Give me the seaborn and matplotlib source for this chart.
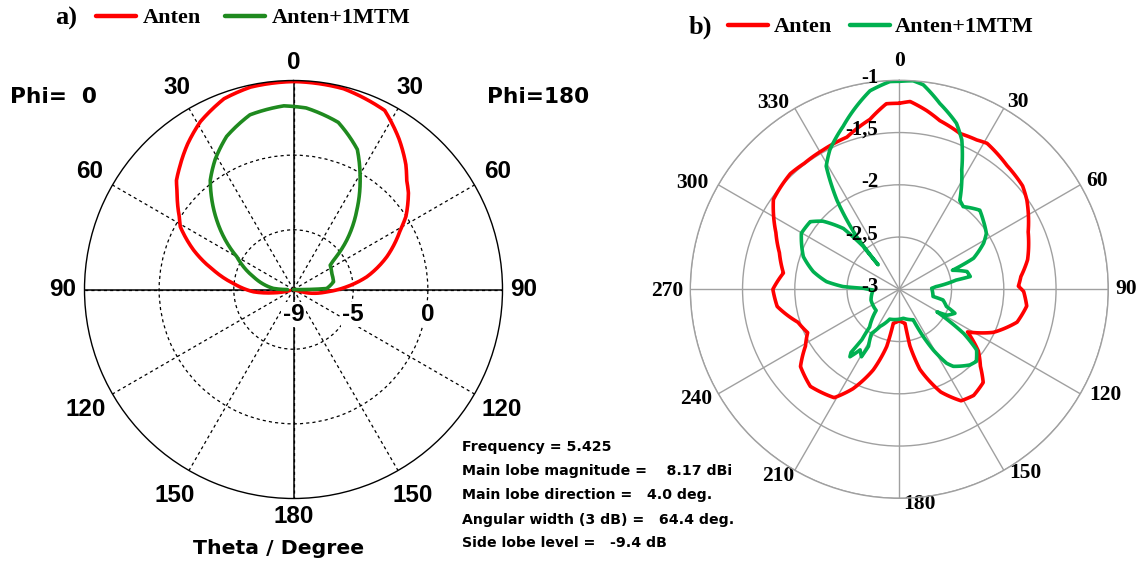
import numpy as np
import matplotlib
matplotlib.use("Agg")
import matplotlib.pyplot as plt
from matplotlib.lines import Line2D
from matplotlib.transforms import ScaledTranslation
import seaborn as sns

sns.set_theme(style="white")
plt.rcParams['font.family'] = ['Liberation Sans', 'DejaVu Sans']
plt.rcParams['text.color'] = 'black'

# ---------------- (a) elevation cut, gain in dB vs theta ----------------
# Phi = 0 half (drawn on the left)
a_red_phi0_theta = [0, 12, 20, 29, 36, 43, 47, 50, 57.7, 61, 68.5, 76.4, 84.3, 93.3, 99.4, 106]
a_red_phi0_gain = [4.93, 4.86, 4.60, 3.86, 3.06, 2.19, 1.72, 1.18, 0.04, -0.33, -1.81, -3.49,
                   -4.96, -6.32, -7.64, -8.73]
a_grn_phi0_theta = [0, 3, 14, 23.6, 31, 37.3, 47.9, 60, 72.4, 87, 91]
a_grn_phi0_gain = [3.26, 3.32, 3.06, 2.19, 1.18, 0.20, -2.07, -4.62, -6.19, -7.66, -8.60]
# Phi = 180 half (drawn on the right)
a_red_phi180_theta = [0, 14, 27, 35, 42, 46, 50, 57, 61, 70.7, 80.2, 87, 94, 104, 108]
a_red_phi180_gain = [4.93, 4.86, 4.46, 3.32, 2.25, 1.54, 1.05, -0.02, -0.83, -2.38, -4.02,
                     -5.42, -6.76, -8.08, -9.0]
a_grn_phi180_theta = [0, 4, 15, 24.5, 31.4, 38.6, 47.2, 53.8, 56.5, 67.3, 79.1, 88.3, 90, 92]
a_grn_phi180_gain = [3.26, 3.19, 2.59, 1.31, -0.43, -2.20, -4.14, -5.68, -6.05, -6.22, -6.27,
                     -6.77, -8.11, -9.0]

a_tick_labels = ['0', '30', '60', '90', '120', '150', '180', '150', '120', '90', '60', '30']
a_r_ticks = [-9, -5, 0]
a_r_lim = (-9, 5)

a_info = ["Frequency = 5.425",
          "Main lobe magnitude =    8.17 dBi",
          "Main lobe direction =   4.0 deg.",
          "Angular width (3 dB) =   64.4 deg.",
          "Side lobe level =   -9.4 dB"]

# ---------------- (b) full azimuth cut, gain in dB ----------------
b_red_angle = [0, 3.3, 8.7, 13.5, 21.3, 27.4, 31, 41, 50, 55, 66, 77, 84, 88.5, 91, 97.5, 105.6,
               114.6, 122, 128, 133.5, 138, 145, 151, 158, 165.6, 169.4, 170.5, 180, 190, 192.4,
               197.9, 205, 211, 222.5, 232, 238.8, 244.7, 252, 262, 270, 278, 287, 294.7, 305.5,
               311, 316.7, 323, 331.4, 341, 350.2, 356, 360]
b_red_gain = [-1.22, -1.20, -1.27, -1.34, -1.40, -1.39, -1.37, -1.43, -1.46, -1.51, -1.65, -1.74,
              -1.83, -1.86, -1.81, -1.77, -1.83, -2.01, -2.23, -2.04, -1.93, -1.80, -1.76, -1.78,
              -1.94, -2.21, -2.45, -2.67, -2.70, -2.67, -2.44, -2.19, -1.95, -1.79, -1.74, -1.80,
              -1.95, -2.03, -1.98, -1.82, -1.79, -1.88, -1.80, -1.70, -1.52, -1.50, -1.48, -1.49,
              -1.48, -1.46, -1.35, -1.22, -1.22]
b_grn_angle = [0, 3.8, 6.7, 12.3, 19, 22.7, 27.6, 34.2, 37.7, 45.5, 50.5, 57.3, 61.3, 67.3, 70.3,
               75.3, 79.8, 80.8, 85.9, 88.2, 102, 103.7, 110, 113.3, 118.5, 120.9, 124.5, 128.1,
               133.1, 137, 145, 147.4, 150.7, 153.1, 155.5, 172, 197.8, 207.4, 212.2, 208.4, 209.3,
               212.9, 216.2, 217.4, 216.6, 218.2, 227.6, 248.9, 268.5, 271.6, 272.8, 276, 281.6,
               288.8, 299.8, 307.2, 311.7, 317.4, 319.9, 319.2, 321, 325, 329.3, 333.5, 341, 351.6,
               357.4, 360]
b_grn_gain = [-1.01, -1.00, -1.03, -1.18, -1.32, -1.45, -1.71, -1.97, -2.00, -1.92, -1.96, -2.01,
              -2.08, -2.23, -2.46, -2.33, -2.31, -2.45, -2.65, -2.69, -2.67, -2.57, -2.52, -2.42,
              -2.48, -2.58, -2.25, -2.06, -1.99, -2.01, -2.10, -2.16, -2.33, -2.49, -2.68, -2.72,
              -2.70, -2.60, -2.50, -2.38, -2.26, -2.31, -2.20, -2.24, -2.40, -2.54, -2.70, -2.71,
              -2.75, -2.66, -2.46, -2.30, -2.16, -2.03, -1.92, -1.93, -2.02, -2.21, -2.46, -2.69,
              -2.35, -1.96, -1.63, -1.51, -1.35, -1.08, -1.01, -1.01]

b_tick_labels = [str(a) for a in range(0, 360, 30)]
b_r_ticks = [-3, -2.5, -2, -1.5, -1]
b_r_labels = ['-3', '-2,5', '-2', '-1,5', '-1']
b_r_lim = (-3, -1)

series_names = ['Anten', 'Anten+1MTM']
RED = '#ff0000'
GREEN_A = '#1f8a1f'
GREEN_B = '#00b050'

W, H = 1143, 565
fig = plt.figure(figsize=(W / 100, H / 100), dpi=100)
fig.patch.set_facecolor('white')


def box(cx, cy, r):
    return [(cx - r) / W, (H - cy - r) / H, 2 * r / W, 2 * r / H]


def smooth_polar_lines(ax, steps=24):
    # draw each segment as a curve in (theta, r) rather than a straight chord
    for ln in ax.lines:
        ln.get_path()._interpolation_steps = steps


def nudge_theta_labels(ax, offsets_px):
    for tick, (dx, dy) in zip(ax.xaxis.get_major_ticks(), offsets_px):
        lab = tick.label1
        lab.set_transform(lab.get_transform()
                          + ScaledTranslation(dx / 100, -dy / 100, fig.dpi_scale_trans))


sans_b = dict(family=['Liberation Sans', 'DejaVu Sans'], weight='bold')
verd_b = dict(family=['DejaVu Sans'], weight='bold')
serif_b = dict(family=['Liberation Serif', 'DejaVu Serif'], weight='bold')

# ---------------- panel (a) ----------------
axA = fig.add_axes(box(293.5, 289.5, 209), projection='polar')
axA.set_theta_zero_location('N')
axA.set_theta_direction(-1)


def half_to_full(theta_l, gain_l, theta_r, gain_r):
    pos = np.concatenate([-np.asarray(theta_l)[::-1], np.asarray(theta_r)[1:]])
    g = np.concatenate([np.asarray(gain_l)[::-1], np.asarray(gain_r)[1:]])
    return np.deg2rad(pos), g


xr, yr = half_to_full(a_red_phi0_theta, a_red_phi0_gain, a_red_phi180_theta, a_red_phi180_gain)
xg, yg = half_to_full(a_grn_phi0_theta, a_grn_phi0_gain, a_grn_phi180_theta, a_grn_phi180_gain)
sns.lineplot(x=xr, y=yr, sort=False, estimator=None, ax=axA, color=RED, linewidth=2.6)
sns.lineplot(x=xg, y=yg, sort=False, estimator=None, ax=axA, color=GREEN_A, linewidth=2.6)
smooth_polar_lines(axA)

axA.set_ylim(*a_r_lim)
axA.set_yticks(a_r_ticks[1:])
axA.set_yticklabels([])
axA.set_xticks(np.deg2rad(np.arange(0, 360, 30)))
axA.set_xticklabels(a_tick_labels, fontsize=17.5, **sans_b)
axA.tick_params(axis='x', length=0, pad=6, colors='black')
axA.tick_params(axis='y', length=0)
axA.grid(True, color='black', linestyle=(0, (2.5, 2.5)), linewidth=0.9)
for ang in (0, 90, 180, 270):
    axA.axvline(np.deg2rad(ang), color='black', linewidth=1.1, zorder=1)
axA.spines['polar'].set_color('black')
axA.spines['polar'].set_linewidth(1.0)
axA.set_xlabel('')
axA.set_ylabel('')
# extra outward push for the oblique labels
a_extra = [0, 6.5, 8.5, 3.5, 13, 10.5, 0, 10.5, 13, 3.5, 8.5, 6.5]
a_offsets = []
for k, dr in enumerate(a_extra):
    t = np.deg2rad(30 * k)
    a_offsets.append((dr * np.sin(t), -dr * np.cos(t)))
nudge_theta_labels(axA, a_offsets)
for v in a_r_ticks:
    axA.annotate(str(v), xy=(np.pi / 2, v), xytext=(0, -18), textcoords='offset points',
                 ha='center', va='center', fontsize=17.5, color='black', zorder=5,
                 bbox=dict(boxstyle='square,pad=0.05', fc='white', ec='none'), **sans_b)

fig.text(10 / W, 1 - 97 / H, 'Phi=  0', fontsize=15.6, ha='left', va='center',
         color='black', **verd_b)
fig.text(487 / W, 1 - 97 / H, 'Phi=180', fontsize=15.6, ha='left', va='center',
         color='black', **verd_b)
fig.text(279 / W, 1 - 548 / H, 'Theta / Degree', fontsize=14.7, ha='center', va='center',
         color='black', **verd_b)
info_y = [447, 471, 495, 520, 543]
for line, yy in zip(a_info, info_y):
    fig.text(462 / W, 1 - yy / H, line, fontsize=10.2, ha='left', va='center',
             color='black', **verd_b)

# ---------------- panel (b) ----------------
axB = fig.add_axes(box(899.3, 289.3, 209), projection='polar')
axB.set_theta_zero_location('N')
axB.set_theta_direction(-1)
sns.lineplot(x=np.deg2rad(b_red_angle), y=b_red_gain, sort=False, estimator=None, ax=axB,
             color=RED, linewidth=2.6)
sns.lineplot(x=np.deg2rad(b_grn_angle), y=b_grn_gain, sort=False, estimator=None, ax=axB,
             color=GREEN_B, linewidth=2.6)
smooth_polar_lines(axB)
axB.set_ylim(*b_r_lim)
axB.set_yticks(b_r_ticks[1:])
axB.set_yticklabels([])
axB.set_xticks(np.deg2rad(np.arange(0, 360, 30)))
axB.set_xticklabels(b_tick_labels, fontsize=15.5, **serif_b)
axB.tick_params(axis='x', length=0, pad=6, colors='black')
axB.tick_params(axis='y', length=0)
axB.grid(True, color='#a0a0a0', linestyle='-', linewidth=1.0)
axB.spines['polar'].set_color('#a0a0a0')
axB.spines['polar'].set_linewidth(1.0)
axB.set_xlabel('')
axB.set_ylabel('')
b_offsets = [(0, -1), (5, 9), (1, 5), (0, 0), (9, -8), (13, -13), (20, -12), (-8, -10),
             (-6, -4), (-5, 2), (-10, 7), (-13, 10)]
nudge_theta_labels(axB, b_offsets)
for v, lab in zip(b_r_ticks, b_r_labels):
    axB.annotate(lab, xy=(0, v), xytext=(-15, 2), textcoords='offset points', ha='right',
                 va='center', fontsize=15, color='black', zorder=5, **serif_b)

# ---------------- legends ----------------
legend_font = dict(family='Liberation Serif', weight='bold', size=16)
fig.text(55 / W, 1 - 18 / H, 'a)', fontsize=19, ha='left', va='center', color='black', **serif_b)
fig.text(689 / W, 1 - 27 / H, 'b)', fontsize=19, ha='left', va='center', color='black', **serif_b)
hA = [Line2D([], [], color=RED, lw=3.2), Line2D([], [], color=GREEN_A, lw=3.2)]
hB = [Line2D([], [], color=RED, lw=3.2), Line2D([], [], color=GREEN_B, lw=3.2)]
legA = fig.legend(hA, series_names, loc='center left', bbox_to_anchor=(96 / W, 1 - 18 / H),
                  ncol=2, frameon=False, prop=legend_font, borderpad=0, borderaxespad=0,
                  handlelength=1.8, handletextpad=0.3, columnspacing=1.1, labelcolor='black')
legB = fig.legend(hB, series_names, loc='center left', bbox_to_anchor=(728 / W, 1 - 27 / H),
                  ncol=2, frameon=False, prop=legend_font, borderpad=0, borderaxespad=0,
                  handlelength=1.8, handletextpad=0.25, columnspacing=0.8, labelcolor='black')

fig.savefig('out.png', dpi=100, facecolor='white')
